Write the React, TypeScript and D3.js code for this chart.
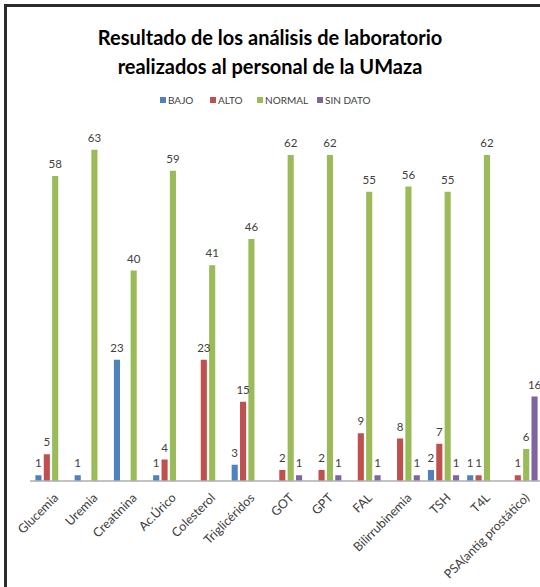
import { useEffect, useRef } from "react";
import * as d3 from "d3";

const categories = [
  "Glucemia",
  "Uremia",
  "Creatinina",
  "Ac.Úrico",
  "Colesterol",
  "Triglicéridos",
  "GOT",
  "GPT",
  "FAL",
  "Bilirrubinemia",
  "TSH",
  "T4L",
  "PSA(antig prostático)",
];

const seriesNames = ["BAJO", "ALTO", "NORMAL", "SIN DATO"];
const seriesColors = ["#4F81BD", "#C0504D", "#9BBB59", "#8064A2"];

const bajo = [1, 1, 23, 1, null, 3, null, null, null, null, 2, 1, null];
const alto = [5, null, null, 4, 23, 15, 2, 2, 9, 8, 7, 1, 1];
const normal = [58, 63, 40, 59, 41, 46, 62, 62, 55, 56, 55, 62, 6];
const sinDato = [null, null, null, null, null, null, 1, 1, 1, 1, 1, null, 16];

const titleLines = [
  "Resultado de los análisis de laboratorio",
  "realizados al personal de la UMaza",
];

type Datum = { cat: string; serie: string; value: number; color: string };

export default function App() {
  const ref = useRef<SVGSVGElement | null>(null);

  useEffect(() => {
    if (!ref.current) return;
    const svg = d3.select(ref.current);
    svg.selectAll("*").remove();

    const width = 540;
    const height = 587;
    const font = "Lato, 'Open Sans', sans-serif";
    const textColor = "#404040";

    svg.append("rect").attr("width", width).attr("height", height).attr("fill", "#fff");

    // marco (solo se ven borde izquierdo y superior)
    svg.append("rect")
      .attr("x", 5.5)
      .attr("y", 5.5)
      .attr("width", 600)
      .attr("height", 640)
      .attr("fill", "none")
      .attr("stroke", "#2b2b2b")
      .attr("stroke-width", 3);

    // título
    svg.append("g")
      .selectAll("text")
      .data(titleLines)
      .join("text")
      .attr("x", 270)
      .attr("y", (_, i) => 45 + i * 28.5)
      .attr("text-anchor", "middle")
      .attr("font-family", font)
      .attr("font-weight", "bold")
      .attr("font-size", 20)
      .attr("fill", "#000")
      .text(d => d);

    // leyenda
    const legendX = [160, 210, 257, 317];
    const legend = svg.append("g")
      .selectAll("g")
      .data(seriesNames)
      .join("g")
      .attr("transform", (_, i) => `translate(${legendX[i]},100)`);
    legend.append("rect")
      .attr("x", 0)
      .attr("y", -3)
      .attr("width", 6)
      .attr("height", 6)
      .attr("fill", (_, i) => seriesColors[i]);
    legend.append("text")
      .attr("x", 8)
      .attr("y", 3.5)
      .attr("font-family", font)
      .attr("font-size", 10)
      .attr("fill", textColor)
      .text(d => d);

    // escalas
    const x0 = d3.scaleBand<string>()
      .domain(categories)
      .range([31.4, 31.4 + 13 * 39.25])
      .padding(0);

    const x1 = d3.scaleBand<string>()
      .domain(seriesNames)
      .range([4, 35.2])
      .paddingInner(0.27)
      .paddingOuter(0);

    const y = d3.scaleLinear().domain([0, 70]).range([480.5, 113]);

    const allSeries = [bajo, alto, normal, sinDato];
    const data: Datum[] = [];
    categories.forEach((cat, ci) => {
      seriesNames.forEach((serie, si) => {
        const v = allSeries[si][ci];
        if (v != null) data.push({ cat, serie, value: v, color: seriesColors[si] });
      });
    });

    const bars = svg.append("g");
    bars.selectAll("rect")
      .data(data)
      .join("rect")
      .attr("x", d => (x0(d.cat) ?? 0) + (x1(d.serie) ?? 0))
      .attr("y", d => y(d.value))
      .attr("width", x1.bandwidth())
      .attr("height", d => y(0) - y(d.value))
      .attr("fill", d => d.color);

    bars.selectAll("text")
      .data(data)
      .join("text")
      .attr("x", d => (x0(d.cat) ?? 0) + (x1(d.serie) ?? 0) + x1.bandwidth() / 2)
      .attr("y", d => y(d.value) - 8)
      .attr("text-anchor", "middle")
      .attr("font-family", font)
      .attr("font-size", 11.5)
      .attr("fill", textColor)
      .text(d => d.value);

    // eje x
    svg.append("line")
      .attr("x1", 30)
      .attr("x2", width)
      .attr("y1", y(0) + 0.5)
      .attr("y2", y(0) + 0.5)
      .attr("stroke", "#868686")
      .attr("stroke-width", 1);

    svg.append("g")
      .selectAll("text")
      .data(categories)
      .join("text")
      .attr("transform", d => `translate(${(x0(d) ?? 0) + x0.bandwidth() / 2 + 5},${y(0) + 15}) rotate(-45)`)
      .attr("text-anchor", "end")
      .attr("dy", "0.35em")
      .attr("font-family", font)
      .attr("font-size", 12.5)
      .attr("fill", textColor)
      .text(d => d);
  }, []);

  return (
    <svg
      ref={ref}
      width={540}
      height={587}
      style={{ position: "absolute", left: 0, top: 0 }}
    />
  );
}
